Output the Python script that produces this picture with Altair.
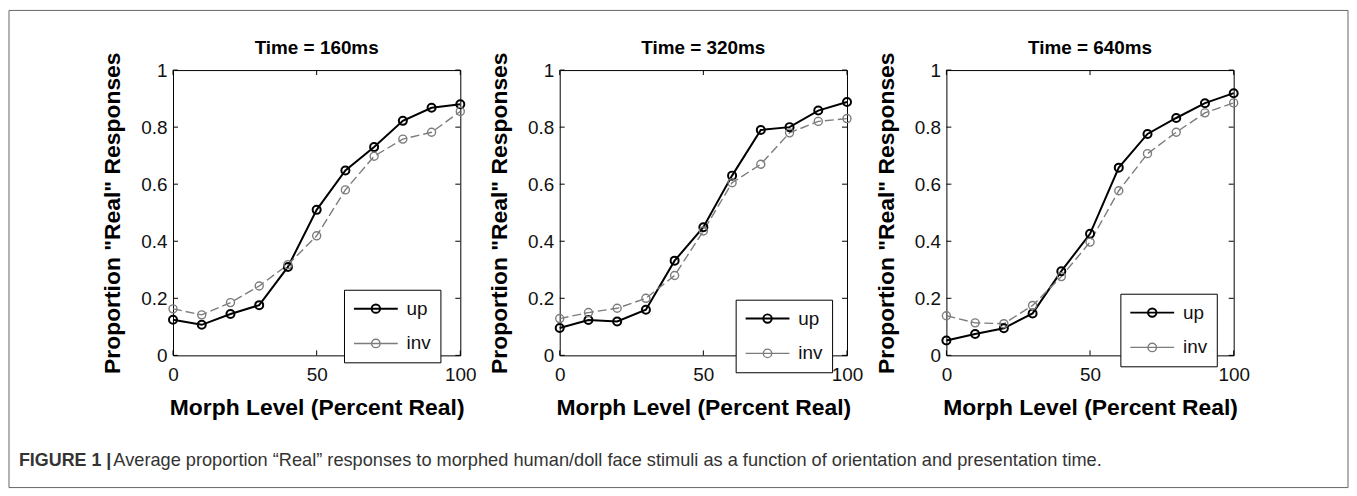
import altair as alt
import pandas as pd

# ---------------- data ----------------
morph = [0, 10, 20, 30, 40, 50, 60, 70, 80, 90, 100]
series_names = ["up", "inv"]
panel_titles = ["Time = 160ms", "Time = 320ms", "Time = 640ms"]

up_160 = [0.125, 0.107, 0.145, 0.176, 0.31, 0.51, 0.648, 0.73, 0.822, 0.868, 0.88]
inv_160 = [0.163, 0.142, 0.185, 0.243, 0.318, 0.419, 0.58, 0.698, 0.758, 0.782, 0.855]

up_320 = [0.096, 0.124, 0.119, 0.16, 0.332, 0.449, 0.63, 0.79, 0.80, 0.858, 0.888]
inv_320 = [0.129, 0.15, 0.165, 0.20, 0.28, 0.436, 0.605, 0.67, 0.78, 0.82, 0.83]

up_640 = [0.052, 0.075, 0.095, 0.147, 0.295, 0.426, 0.658, 0.776, 0.832, 0.884, 0.919]
inv_640 = [0.139, 0.114, 0.111, 0.175, 0.276, 0.397, 0.577, 0.707, 0.782, 0.85, 0.885]

x_ticks = [0, 50, 100]
y_ticks = [0, 0.2, 0.4, 0.6, 0.8, 1]

x_title = "Morph Level (Percent Real)"
y_title = 'Proportion "Real" Responses'
caption_bold = ["FIGURE 1 |"]
caption_text = ["Average proportion \u201cReal\u201d responses to morphed human/doll face stimuli as a function of orientation and presentation time."]

# ---------------- styling ----------------
W, H = 289, 287
FONT = "Liberation Sans"
TICK = 5
# legend glyph: a line with an open circle, drawn to the right of the symbol slot
LEG_PATH = "M-1,0L3.9,0M0.98,0A0.47,0.47,0,1,1,1.92,0A0.47,0.47,0,1,1,0.98,0"
legend_pos = [(172, 221), (177, 231), (175, 225)]


def panel(i, up, inv, extras=False):
    df = pd.DataFrame({
        "morph": morph * 2,
        "value": up + inv,
        "series": ["up"] * len(up) + ["inv"] * len(inv),
    })
    lx, ly = legend_pos[i]
    leg = alt.Legend(
        title=None, orient="none", legendX=lx, legendY=ly,
        symbolType=LEG_PATH, symbolSize=324, symbolFillColor="transparent",
        labelFontSize=19, labelFont=FONT, labelColor="#111",
        strokeColor="black", fillColor="white", padding=9,
        rowPadding=15, labelOffset=34,
    )
    xs = alt.X("morph:Q", scale=alt.Scale(domain=[0, 100], nice=False, zero=False),
               axis=alt.Axis(values=x_ticks, title=x_title, labelFlush=False,
                             labelPadding=10, titlePadding=12))
    ys = alt.Y("value:Q", scale=alt.Scale(domain=[0, 1], nice=False),
               axis=alt.Axis(values=y_ticks, title=y_title, format="~g", labelFlush=False,
                             labelPadding=6, titlePadding=16))
    color = alt.Color("series:N", scale=alt.Scale(domain=series_names, range=["#000000", "#7c7c7c"]), legend=leg)
    sw = alt.StrokeWidth("series:N", scale=alt.Scale(domain=series_names, range=[2.0, 1.4]), legend=leg)

    base = alt.Chart(df)
    line_up = base.transform_filter(alt.datum.series == "up").mark_line().encode(
        x=xs, y=ys, color=color, strokeWidth=sw)
    line_inv = base.transform_filter(alt.datum.series == "inv").mark_line(strokeDash=[9, 4]).encode(
        x=xs, y=ys, color=color, strokeWidth=sw)
    pts = base.mark_point(filled=False, size=65, opacity=1).encode(x=xs, y=ys, color=color, strokeWidth=sw)

    xt = alt.Chart(pd.DataFrame({"morph": x_ticks}))
    yt = alt.Chart(pd.DataFrame({"value": y_ticks}))
    tk = dict(color="black", strokeWidth=1)
    t_bottom = xt.mark_rule(**tk).encode(x=xs, y=alt.value(H), y2=alt.value(H - TICK))
    t_top = xt.mark_rule(**tk).encode(x=xs, y=alt.value(0), y2=alt.value(TICK))
    t_left = yt.mark_rule(**tk).encode(y=ys, x=alt.value(0), x2=alt.value(TICK))
    t_right = yt.mark_rule(**tk).encode(y=ys, x=alt.value(W), x2=alt.value(W - TICK))

    title = alt.Chart(pd.DataFrame({"t": [panel_titles[i]]})).mark_text(
        align="center", baseline="alphabetic", font=FONT, fontSize=19,
        fontWeight="bold", color="black"
    ).encode(text="t:N", x=alt.value(W / 2), y=alt.value(-16))

    layers = [line_up, line_inv, pts, t_bottom, t_top, t_left, t_right, title]
    if extras:
        frame = alt.Chart(pd.DataFrame({"a": [0]})).mark_rect(
            fillOpacity=0, stroke="#666666", strokeWidth=1
        ).encode(x=alt.value(-165), x2=alt.value(1182), y=alt.value(-60), y2=alt.value(420))
        cap1 = alt.Chart(pd.DataFrame({"t": caption_bold})).mark_text(
            align="left", baseline="alphabetic", font=FONT, fontSize=18,
            fontWeight="bold", color="#333333"
        ).encode(text="t:N", x=alt.value(-155), y=alt.value(398))
        cap2 = alt.Chart(pd.DataFrame({"t": caption_text})).mark_text(
            align="left", baseline="alphabetic", font=FONT, fontSize=18.3,
            color="#333333"
        ).encode(text="t:N", x=alt.value(-60), y=alt.value(398))
        layers = layers + [frame, cap1, cap2]

    return alt.layer(*layers).properties(width=W, height=H)


chart = alt.hconcat(
    panel(0, up_160, inv_160, extras=True),
    panel(1, up_320, inv_320),
    panel(2, up_640, inv_640),
    spacing=100, bounds="flush",
).resolve_scale(
    color="independent", strokeWidth="independent"
).resolve_legend(
    color="independent", strokeWidth="independent"
).configure(
    padding=0, background="white"
).configure_view(
    stroke="black", strokeWidth=1
).configure_axis(
    domain=False, ticks=False, grid=False,
    labelFont=FONT, labelFontSize=19, labelColor="#111111",
    titleFont=FONT, titleFontSize=23, titleFontWeight="bold", titleColor="black",
)

chart.save("out.html", embed_options={"renderer": "svg", "actions": False})
